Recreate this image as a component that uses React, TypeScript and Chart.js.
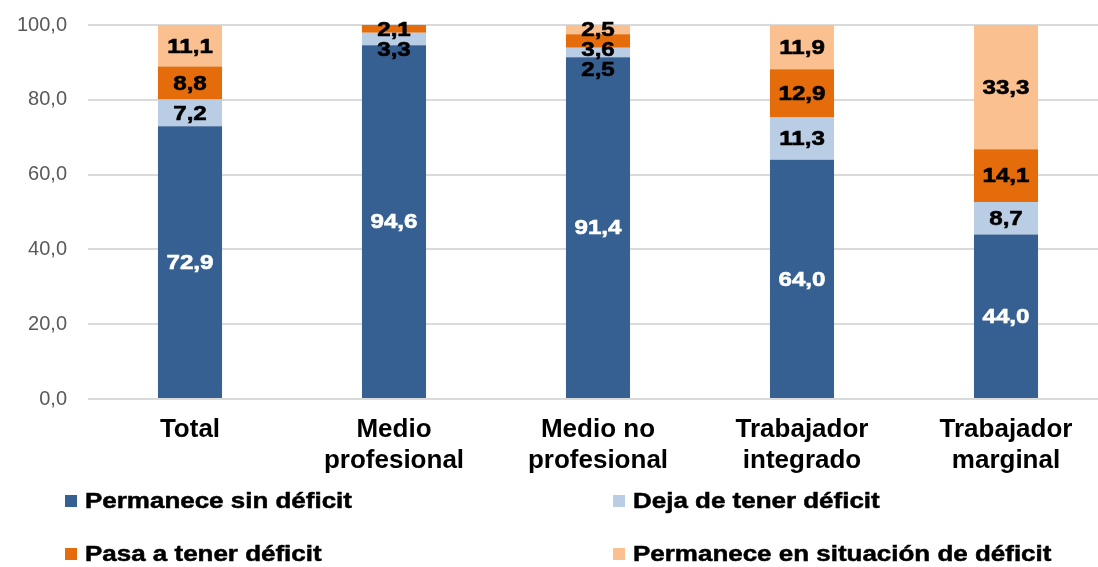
import React, { useEffect, useRef } from "react";
import { Chart, registerables } from "chart.js";

Chart.register(...registerables);

const categories: (string | string[])[] = [
  "Total",
  ["Medio", "profesional"],
  ["Medio no", "profesional"],
  ["Trabajador", "integrado"],
  ["Trabajador", "marginal"],
];

const seriesNames = [
  "Permanece sin déficit",
  "Deja de tener déficit",
  "Pasa a tener déficit",
  "Permanece en situación de déficit",
];

const permaneceSin = [72.9, 94.6, 91.4, 64.0, 44.0];
const dejaDeTener = [7.2, 3.3, 2.5, 11.3, 8.7];
const pasaATener = [8.8, 2.1, 3.6, 12.9, 14.1];
const permaneceEn = [11.1, 0, 2.5, 11.9, 33.3];

const yTicks = [0, 20, 40, 60, 80, 100];

const colors = ["#376092", "#B9CDE5", "#E46C0A", "#FAC090"];
const FONT = "'Liberation Sans', Arial, sans-serif";

const fmt = (v: number) => v.toFixed(1).replace(".", ",");

const segLabels = {
  id: "segLabels",
  afterDatasetsDraw(chart: any) {
    const ctx = chart.ctx;
    const n = chart.data.labels.length;
    for (let i = 0; i < n; i++) {
      const items: any[] = [];
      chart.data.datasets.forEach((ds: any, di: number) => {
        const v = ds.data[i];
        if (!v) return;
        const el = chart.getDatasetMeta(di).data[i];
        items.push({
          x: el.x,
          y: (el.y + el.base) / 2,
          text: fmt(v),
          color: di === 0 ? "#FFFFFF" : "#000000",
        });
      });
      items.sort((a, b) => a.y - b.y);
      for (let k = 1; k < items.length; k++) {
        if (items[k].y < items[k - 1].y + 20) items[k].y = items[k - 1].y + 20;
      }
      items.forEach((it) => {
        ctx.save();
        ctx.font = `bold 21px ${FONT}`;
        ctx.fillStyle = it.color;
        ctx.strokeStyle = it.color;
        ctx.lineWidth = 0.6;
        ctx.textAlign = "center";
        ctx.textBaseline = "middle";
        ctx.translate(it.x, it.y + 1);
        ctx.scale(1.15, 1);
        ctx.fillText(it.text, 0, 0);
        ctx.strokeText(it.text, 0, 0);
        ctx.restore();
      });
    }
  },
};

const bottomLegend = {
  id: "bottomLegend",
  afterDraw(chart: any) {
    const ctx = chart.ctx;
    const cols = [65, 613];
    const rows = [501, 554];
    chart.data.datasets.forEach((ds: any, di: number) => {
      const x = cols[di % 2];
      const y = rows[Math.floor(di / 2)];
      ctx.save();
      ctx.fillStyle = ds.backgroundColor;
      ctx.fillRect(x, y - 6, 12, 12);
      ctx.font = `bold 22px ${FONT}`;
      ctx.fillStyle = "#000000";
      ctx.strokeStyle = "#000000";
      ctx.lineWidth = 0.5;
      ctx.textAlign = "left";
      ctx.textBaseline = "middle";
      ctx.translate(x + 20, y + 1);
      ctx.scale(1.18, 1);
      ctx.fillText(ds.label, 0, 0);
      ctx.strokeText(ds.label, 0, 0);
      ctx.restore();
    });
  },
};

export default function App() {
  const ref = useRef<HTMLCanvasElement>(null);
  useEffect(() => {
    if (!ref.current) return;
    const series = [permaneceSin, dejaDeTener, pasaATener, permaneceEn];
    const chart = new Chart(ref.current, {
      type: "bar",
      data: {
        labels: categories as any,
        datasets: series.map((d, i) => ({
          label: seriesNames[i],
          data: d,
          backgroundColor: colors[i],
          borderWidth: 0,
          barPercentage: 1,
          categoryPercentage: 0.314,
        })),
      },
      options: {
        animation: false,
        responsive: false,
        layout: { padding: { top: 25, right: 2, bottom: 0, left: 0 } },
        plugins: { legend: { display: false }, tooltip: { enabled: false } },
        scales: {
          x: {
            stacked: true,
            grid: { display: false, drawTicks: false },
            border: { display: false },
            ticks: {
              color: "#000000",
              font: { family: FONT, size: 26, weight: "bold", lineHeight: 1.2 },
              padding: 15,
              maxRotation: 0,
              autoSkip: false,
            },
            afterFit: (s: any) => {
              s.height = 168;
            },
          },
          y: {
            stacked: true,
            min: 0,
            max: 100,
            afterBuildTicks: (s: any) => {
              s.ticks = yTicks.map((v) => ({ value: v }));
            },
            grid: {
              color: "#DADADA",
              lineWidth: 2,
              drawTicks: true,
              tickLength: 21,
              tickColor: "rgba(0,0,0,0)",
            },
            border: { display: false },
            ticks: {
              color: "#595959",
              font: { family: FONT, size: 20 },
              padding: 0,
              callback: (v: any) => fmt(Number(v)),
            },
            afterFit: (s: any) => {
              s.width = 88;
            },
          },
        },
      },
      plugins: [segLabels, bottomLegend],
    });
    return () => chart.destroy();
  }, []);
  return (
    <div style={{ position: "fixed", left: 0, top: 0, width: 1110, height: 567, background: "#fff" }}>
      <canvas ref={ref} width={1110} height={567} style={{ display: "block" }} />
    </div>
  );
}
